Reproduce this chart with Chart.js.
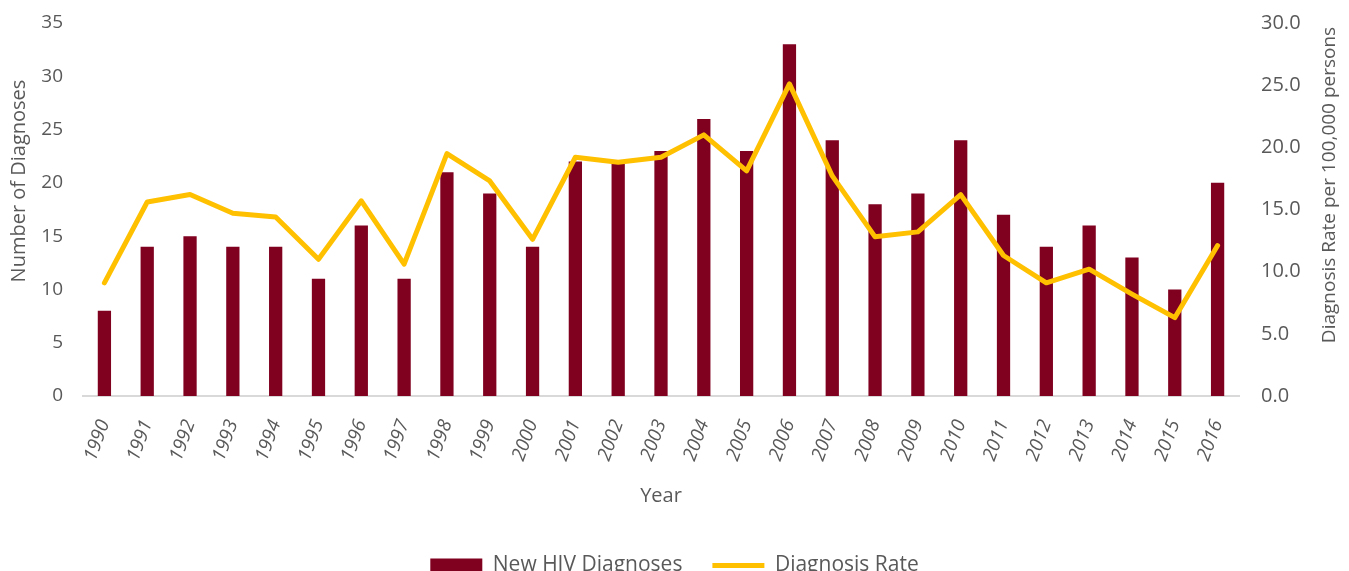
<!DOCTYPE html>
<html>
<head>
<meta charset="utf-8">
<script src="https://cdn.jsdelivr.net/npm/chart.js@4/dist/chart.umd.min.js"></script>
<style>
html,body{margin:0;padding:0;background:#fff;}
#wrap{width:1349px;height:571px;position:relative;}
</style>
</head>
<body>
<div id="wrap"><canvas id="c"></canvas></div>
<script>
const years = ['1990','1991','1992','1993','1994','1995','1996','1997','1998','1999','2000','2001','2002','2003','2004','2005','2006','2007','2008','2009','2010','2011','2012','2013','2014','2015','2016'];
const newDiagnoses = [8,14,15,14,14,11,16,11,21,19,14,22,22,23,26,23,33,24,18,19,24,17,14,16,13,10,20];
const diagnosisRate = [9.1,15.6,16.2,14.7,14.4,11.0,15.7,10.6,19.5,17.3,12.6,19.2,18.8,19.2,21.0,18.1,25.1,17.7,12.8,13.2,16.2,11.3,9.1,10.2,8.2,6.3,12.1];
const leftTicks = [0,5,10,15,20,25,30,35];
const rightTicks = [0,5,10,15,20,25,30];
const leftTitle = 'Number of Diagnoses';
const rightTitle = 'Diagnosis Rate per 100,000 persons';

const txt = '#595959';
const fam = '"Open Sans", sans-serif';

// axis titles, both reading bottom-to-top as in the reference
const axisTitlePlugin = {
  id: 'axisTitles',
  afterDraw(chart) {
    const ctx = chart.ctx;
    const yl = chart.scales.y, yr = chart.scales.y1;
    const draw = (text, x, y, size) => {
      ctx.save();
      ctx.translate(x, y);
      ctx.rotate(-Math.PI / 2);
      ctx.font = size + 'px ' + fam;
      ctx.fillStyle = txt;
      ctx.textAlign = 'center';
      ctx.textBaseline = 'middle';
      ctx.fillText(text, 0, 0);
      ctx.restore();
    };
    draw(leftTitle, yl.left + 19, yl.top + 158, 20);
    draw(rightTitle, yr.right - 19, yr.top + 162, 19);
  }
};

const noPad = (s) => { s.paddingTop = 0; s.paddingBottom = 0; };

new Chart(document.getElementById('c'), {
  data: {
    labels: years,
    datasets: [
      {
        type: 'line',
        label: 'Diagnosis Rate',
        data: diagnosisRate,
        yAxisID: 'y1',
        borderColor: '#FFC000',
        backgroundColor: '#FFC000',
        borderWidth: 5,
        borderJoinStyle: 'round',
        borderCapStyle: 'round',
        pointRadius: 0,
        tension: 0,
        pointStyle: 'line',
        order: 0
      },
      {
        type: 'bar',
        label: 'New HIV Diagnoses',
        data: newDiagnoses,
        yAxisID: 'y',
        backgroundColor: '#800020',
        borderWidth: 0,
        categoryPercentage: 1,
        barPercentage: 0.31,
        pointStyle: 'rect',
        order: 1
      }
    ]
  },
  plugins: [axisTitlePlugin],
  options: {
    responsive: true,
    maintainAspectRatio: false,
    animation: false,
    layout: { padding: { top: 23, bottom: -15, left: 0, right: 0 } },
    plugins: {
      tooltip: { enabled: false },
      legend: {
        position: 'bottom',
        reverse: true,
        labels: {
          usePointStyle: true,
          pointStyleWidth: 52,
          boxHeight: 14,
          padding: 30,
          color: txt,
          font: { family: fam, size: 21 }
        }
      }
    },
    scales: {
      x: {
        grid: { display: false, drawTicks: false },
        border: { display: true, color: '#D9D9D9', width: 2 },
        ticks: {
          color: txt,
          font: { family: fam, size: 19, style: 'italic' },
          minRotation: 70,
          maxRotation: 70,
          padding: 21,
          autoSkip: false
        },
        title: {
          display: true,
          text: 'Year',
          color: txt,
          font: { family: fam, size: 20 },
          padding: { top: 6, bottom: 17 }
        },
        afterFit: (s) => { s.height = 129; }
      },
      y: {
        position: 'left',
        min: 0, max: 35,
        afterBuildTicks: (s) => { s.ticks = leftTicks.map(v => ({ value: v })); },
        grid: { display: false, drawTicks: false },
        border: { display: false },
        ticks: {
          color: txt,
          font: { family: fam, size: 19 },
          padding: 20
        },
        title: { display: false },
        afterFit: (s) => { s.width = 83; noPad(s); }
      },
      y1: {
        position: 'right',
        min: 0, max: 30,
        afterBuildTicks: (s) => { s.ticks = rightTicks.map(v => ({ value: v })); },
        grid: { display: false, drawTicks: false },
        border: { display: false },
        ticks: {
          color: txt,
          font: { family: fam, size: 20 },
          padding: 22,
          callback: (v) => Number(v).toFixed(1)
        },
        title: { display: false },
        afterFit: (s) => { s.width = 110; noPad(s); }
      }
    }
  }
});
</script>
</body>
</html>
